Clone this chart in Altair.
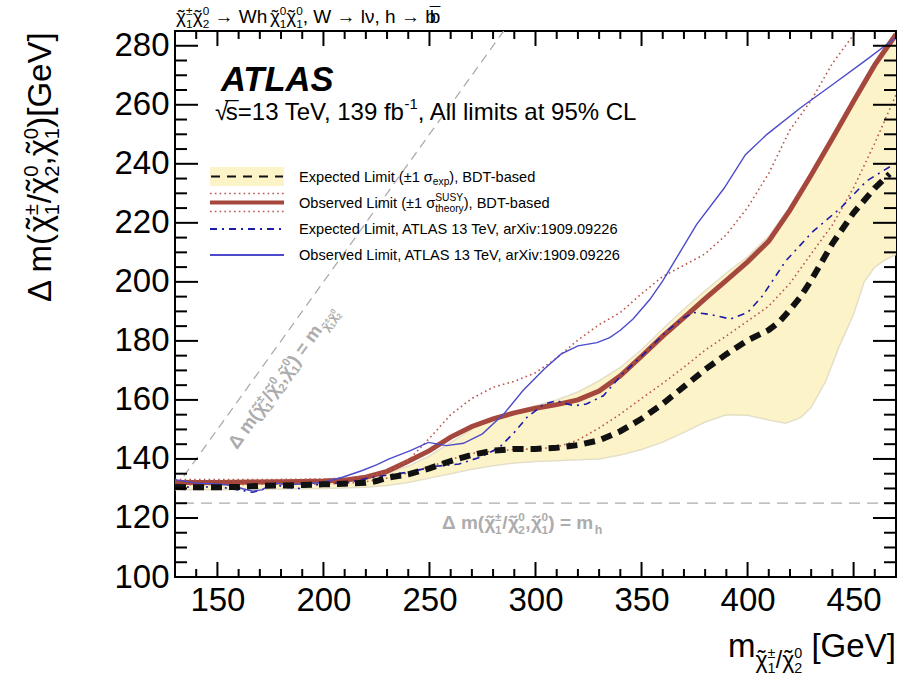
import altair as alt
import pandas as pd
import numpy as np

# ---------------- data ----------------
exp_x = [130, 140, 150, 160, 170, 180, 190, 200, 210, 220, 225, 230, 240, 250, 260, 270, 280, 290, 300, 310,
         320, 330, 340, 350, 360, 370, 380, 390, 400, 410, 415, 420, 425, 430, 440, 450, 460, 467]
exp_y = [130.5, 130.4, 130.4, 130.5, 130.9, 131.0, 131.2, 131.4, 131.6, 131.9, 132.5, 133.6, 134.8, 136.8, 139.3,
         141.4, 142.8, 143.4, 143.4, 143.8, 144.7, 146.3, 149.4, 153.6, 158.7, 164.5, 170.3, 175.5, 180.2, 183.7,
         186.5, 190.5, 195.0, 200.5, 213.0, 223.4, 231.8, 236.6]

obs_x = [130, 140, 150, 160, 170, 180, 190, 200, 210, 220, 230, 240, 250, 260, 270, 280, 290, 300, 310, 320,
         330, 340, 350, 360, 370, 380, 390, 400, 410, 420, 430, 440, 450, 460, 470]
obs_y = [132.0, 132.0, 132.0, 132.1, 132.2, 132.3, 132.4, 132.5, 132.8, 133.8, 135.8, 139.2, 142.8, 147.4, 151.0,
         153.6, 155.6, 157.2, 158.4, 160.0, 163.0, 168.2, 174.8, 181.6, 187.9, 194.3, 200.5, 206.8, 213.8, 224.3,
         236.2, 248.6, 261.2, 273.5, 283.8]

obs_up_x = [130, 150, 170, 200, 210, 220, 230, 240, 250, 260, 270, 280, 290, 300, 310, 320, 330, 340, 350, 360,
            370, 380, 390, 400, 410, 420, 430, 440, 450, 455]
obs_up_y = [133.0, 133.0, 133.0, 133.2, 133.5, 134.2, 135.5, 139.5, 147.0, 155.0, 160.5, 164.3, 166.3, 169.2,
            174.2, 180.3, 185.5, 189.6, 196.0, 201.8, 205.6, 209.5, 216.0, 225.2, 236.8, 251.5, 261.5, 274.0, 283.7,
            289.0]

obs_dn_x = [130, 150, 170, 200, 210, 220, 230, 240, 250, 260, 270, 280, 290, 300, 310, 320, 330, 340, 350, 360,
            370, 380, 390, 400, 410, 420, 430, 440, 450, 460, 470]
obs_dn_y = [131.3, 131.3, 131.4, 131.5, 131.7, 132.3, 133.5, 135.3, 137.3, 139.8, 141.9, 142.6, 143.2, 143.4,
            144.0, 146.4, 150.5, 155.2, 160.5, 165.6, 171.1, 176.9, 181.7, 186.7, 191.8, 199.5, 209.5, 219.3, 231.9,
            247.0, 263.4]

band_x = [130, 150, 170, 200, 220, 230, 240, 250, 260, 270, 280, 290, 300, 310, 320, 330, 340, 350, 360, 370,
          380, 390, 400, 410, 418, 425, 430, 437, 443, 450, 455, 460, 465, 470]
band_hi = [132.6, 132.6, 132.7, 133.0, 134.0, 135.3, 137.5, 141.0, 145.5, 150.0, 153.5, 156.0, 158.0, 160.0, 162.7,
           166.5, 171.0, 177.0, 184.0, 190.8, 197.0, 203.0, 208.5, 215.5, 223.5, 231.0, 237.3, 246.0, 253.5, 262.0,
           268.5, 274.5, 280.0, 285.0]
band_lo = [129.6, 129.6, 129.7, 130.0, 130.4, 131.0, 132.0, 133.5, 135.0, 136.5, 137.7, 138.6, 139.1, 139.4, 139.7,
           140.0, 141.3, 143.2, 145.7, 149.0, 152.5, 155.0, 154.8, 153.2, 152.1, 154.0, 157.5, 166.5, 177.8, 189.0,
           200.0, 205.0, 207.5, 209.3]

old_obs_x = [130, 140, 150, 157, 162, 166.5, 171, 176, 184, 193, 200, 209, 218, 225, 231, 241, 249.5, 258, 266,
             275, 285, 294, 304, 312, 320, 329, 335, 340, 346, 354, 360, 376, 389, 399, 409, 425, 440, 456, 470]
old_obs_y = [133.0, 131.8, 131.5, 131.0, 129.9, 129.1, 129.5, 131.8, 131.3, 131.6, 132.1, 133.8, 136.0, 138.0,
             140.0, 142.8, 145.6, 144.5, 145.3, 148.5, 155.2, 163.1, 170.4, 175.5, 178.3, 179.4, 181.1, 183.6,
             187.4, 194.1, 200.3, 219.5, 231.8, 243.1, 249.9, 259.0, 266.8, 275.2, 282.8]

old_exp_x = [130, 137, 150, 162, 166.5, 171, 176, 182, 190, 193, 200, 212, 223, 240, 253, 264, 274, 283, 290, 296,
             304, 310, 318, 324, 332, 341, 351, 362, 370, 375, 382, 392, 400, 407, 418, 431, 444, 456, 470]
old_exp_y = [131.0, 130.4, 130.6, 129.3, 128.7, 129.5, 131.6, 130.4, 129.9, 131.0, 131.4, 132.1, 133.8, 135.5,
             137.5, 138.3, 140.6, 143.9, 149.0, 154.1, 158.6, 159.7, 158.0, 158.6, 161.4, 168.8, 175.5, 183.4,
             187.9, 189.6, 189.0, 187.4, 189.6, 195.2, 207.1, 217.2, 225.1, 234.1, 240.3]

kin_x = [130, 285]          # Delta m = m(chargino) kinematic line
mh_value = [125]            # Delta m = m_h line

x_major = [150, 200, 250, 300, 350, 400, 450]
x_minor = [v for v in range(140, 471, 10) if v not in x_major]
y_major = [100, 120, 140, 160, 180, 200, 220, 240, 260, 280]
y_minor = [v for v in range(105, 286, 5) if v not in y_major]

legend_labels = [
    "Expected Limit (\u00b11 \u03c3", "exp", "), BDT-based",
    "Observed Limit (\u00b11 \u03c3", "SUSY", "theory", "), BDT-based",
    "Expected Limit, ATLAS 13 TeV, arXiv:1909.09226",
    "Observed Limit, ATLAS 13 TeV, arXiv:1909.09226",
]

# ---------------- layout ----------------
L, T, W, H = 175, 31, 721, 546
X0, X1, Y0, Y1 = 130, 470, 100, 285
FONT = "Liberation Sans"

C_BAND = "#fdf3c8"
C_BAND_EDGE = "#e4dfc8"
C_OBS = "#a5473d"
C_OBS_DOT = "#b8574c"
C_OLD_OBS = "#4b4bcc"
C_OLD_EXP = "#1c1ca8"
C_GRAY = "#acacac"

xs = alt.Scale(domain=[X0, X1], nice=False, zero=False)
ys = alt.Scale(domain=[Y0, Y1], nice=False, zero=False)
xax = alt.Axis(values=x_major, ticks=False, domain=False, grid=False, labelFont=FONT, labelFontSize=33,
               labelColor="black", labelPadding=7, labelFlush=False, labelOverlap=False)
yax = alt.Axis(values=y_major, ticks=False, domain=False, grid=False, labelFont=FONT, labelFontSize=33,
               labelColor="black", labelPadding=6, labelFlush=False, labelOverlap=False)


def X(f):
    return alt.X(f, type="quantitative", scale=xs, axis=xax, title=None)


def Y(f):
    return alt.Y(f, type="quantitative", scale=ys, axis=yax, title=None)


def dx(px):
    return X0 + (px - L) * (X1 - X0) / W


def dy(py):
    return Y1 - (py - T) * (Y1 - Y0) / H


WID = {" ": .278, "(": .333, ")": .333, ",": .278, "-": .333, ".": .278, "/": .278, ":": .278, "=": .584,
       "%": .889, "[": .278, "]": .278, "A": .667, "B": .667, "C": .722, "D": .722, "E": .667, "G": .778,
       "L": .556, "O": .778, "S": .667, "T": .611, "U": .722, "V": .667, "W": .944, "X": .667, "Y": .667,
       "a": .556, "b": .556, "c": .5, "d": .556, "e": .556, "f": .278, "h": .556, "i": .222, "l": .222,
       "m": .833, "n": .556, "o": .556, "p": .556, "r": .333, "s": .5, "t": .278, "v": .5, "x": .5, "y": .5,
       "\u00b1": .584, "\u03c3": .58, "\u03c7": .52, "\u03bd": .5, "\u0394": .668, "\u2192": .84,
       "\u221a": .45, "\u02dc": .333, "\u00af": .552}


def tw(s, size, bold=False):
    w = sum(WID.get(c, 0.556) for c in s) * size
    return w * (1.06 if bold else 1.0)


def rich(items, x0, y0, size, angle=0.0, bold=False):
    """Lay out text pieces (normal / overlay / stacked super+subscript / kern) along a direction."""
    th = np.radians(angle)
    d = (np.cos(th), np.sin(th))
    u = (np.sin(th), -np.cos(th))
    rows = []
    pos = 0.0

    def put(txt, sc, up, shift=0.0):
        s = size * sc
        lead = len(txt) - len(txt.lstrip(" "))
        p = pos + shift + tw(" " * lead, s, bold)
        px = x0 + d[0] * p + u[0] * up * size
        py = y0 + d[1] * p + u[1] * up * size
        rows.append(dict(x=dx(px), y=dy(py), t=txt.strip(" "), s=s, a=angle % 360))
        return tw(txt, s, bold)

    for it in items:
        if it[0] == "t":
            pos += put(it[1], it[2], it[3])
        elif it[0] == "o":
            put(it[1], it[2], it[3], it[4] * size * it[2])
        elif it[0] == "k":
            pos += it[1] * size
        else:
            _, sup, sub, sc, up_sup, up_sub = it
            w1 = put(sup, sc, up_sup)
            w2 = put(sub, sc, up_sub)
            pos += max(w1, w2)
    return rows


def chi(sup, sub, sc=1.0, base=0.0):
    return [("o", "\u02dc", sc, base + 0.02 * sc, 0.10), ("t", "\u03c7", sc, base),
            ("ss", sup, sub, sc * 0.62, base + 0.40 * sc, base - 0.24 * sc)]


def dm_items():
    return ([("t", "\u0394 m(", 1, 0)] + chi("\u00b1", "1") + [("t", "/", 1, 0)] + chi("0", "2")
            + [("t", ",", 1, 0)] + chi("0", "1"))


normal_rows = []
# y-axis title (rotated)
normal_rows += rich(dm_items() + [("t", ")[GeV]", 1, 0)], 51, 302, 33, angle=270)
# x-axis title
normal_rows += rich([("t", "m", 1, 0)] + chi("\u00b1", "1", 0.7, -0.32) + [("t", "/", 0.7, -0.32)]
                    + chi("0", "2", 0.7, -0.32) + [("t", " [GeV]", 1, 0)], 728, 657, 33)
# top title
normal_rows += rich(chi("\u00b1", "1") + chi("0", "2") + [("t", " \u2192 Wh", 1, 0), ("k", 0.3)]
                    + chi("0", "1") + chi("0", "1")
                    + [("t", ", W \u2192 l\u03bd, h \u2192 b", 1, 0), ("o", "\u00af", 1, 0.14, 0.0),
                       ("t", "b", 1, 0)], 176, 23, 19)
# sqrt(s) line
normal_rows += rich([("t", "\u221a", 1, 0), ("o", "\u00af", 1, 0.06, -0.02),
                     ("t", "s=13 TeV, 139 fb", 1, 0), ("k", -0.2), ("t", "-1", 0.62, 0.42),
                     ("t", ", All limits at 95% CL", 1, 0)], 215, 119.5, 24)
# legend text
LS = 14.6
normal_rows += rich([("t", legend_labels[0], 1, 0), ("t", legend_labels[1], 0.7, -0.25),
                     ("t", legend_labels[2], 1, 0)], 299, 181.5, LS)
normal_rows += rich([("t", legend_labels[3], 1, 0), ("ss", legend_labels[4], legend_labels[5], 0.7, 0.45, -0.3),
                     ("t", legend_labels[6], 1, 0)], 299, 207.5, LS)
normal_rows += rich([("t", legend_labels[7], 1, 0)], 299, 234, LS)
normal_rows += rich([("t", legend_labels[8], 1, 0)], 299, 260, LS)

gray_rows = []
gray_rows += rich(dm_items() + [("t", ") = m", 1, 0), ("t", "h", 0.65, -0.25)], 442, 529, 19, bold=True)
gray_rows += rich(dm_items() + [("t", ") = m", 1, 0)] + chi("\u00b1", "1", 0.65, -0.25)
                  + chi("0", "2", 0.65, -0.25), 237, 450, 18.5, angle=305.7, bold=True)

atlas_rows = [dict(x=dx(221), y=dy(90.7), t="ATLAS", s=34.5, a=0)]


def text_layer(rows, **kw):
    return alt.Chart(pd.DataFrame(rows)).mark_text(align="left", baseline="alphabetic", font=FONT, **kw).encode(
        x=X("x"), y=Y("y"), text="t:N",
        size=alt.Size("s:Q", scale=None, legend=None),
        angle=alt.Angle("a:Q", scale=None))


# ---------------- data layers ----------------
band = alt.Chart(pd.DataFrame({"x": band_x, "lo": band_lo, "hi": band_hi}))
band_area = band.mark_area(color=C_BAND, clip=True).encode(x=X("x"), y=Y("lo"), y2="hi")
band_lo_line = band.mark_line(color=C_BAND_EDGE, strokeWidth=1.5, clip=True).encode(x=X("x"), y=Y("lo"))
band_hi_line = band.mark_line(color=C_BAND_EDGE, strokeWidth=1.5, clip=True).encode(x=X("x"), y=Y("hi"))

kin = alt.Chart(pd.DataFrame({"x": kin_x, "y": kin_x})).mark_line(
    color=C_GRAY, strokeWidth=1.3, strokeDash=[9, 6], clip=True).encode(x=X("x"), y=Y("y"))
mh = alt.Chart(pd.DataFrame({"y": mh_value})).mark_rule(
    color=C_GRAY, strokeWidth=1.3, strokeDash=[11, 7]).encode(y=Y("y"))


def series(xv, yv, **kw):
    return alt.Chart(pd.DataFrame({"x": xv, "y": yv})).mark_line(clip=True, **kw).encode(x=X("x"), y=Y("y"))


obs_line = series(obs_x, obs_y, color=C_OBS, strokeWidth=5)
obs_up = series(obs_up_x, obs_up_y, color=C_OBS_DOT, strokeWidth=1.6, strokeDash=[1.6, 3.2])
obs_dn = series(obs_dn_x, obs_dn_y, color=C_OBS_DOT, strokeWidth=1.6, strokeDash=[1.6, 3.2])
exp_line = series(exp_x, exp_y, color="#111111", strokeWidth=6, strokeDash=[11, 7])
old_exp = series(old_exp_x, old_exp_y, color=C_OLD_EXP, strokeWidth=1.6, strokeDash=[7, 5, 2, 5])
old_obs = series(old_obs_x, old_obs_y, color=C_OLD_OBS, strokeWidth=1.4)

# ---------------- ticks (inside the frame, on all four sides) ----------------


def xticks(vals, length):
    c = alt.Chart(pd.DataFrame({"v": vals})).mark_rule(color="black", strokeWidth=2)
    return (c.encode(x=X("v"), y=alt.value(H), y2=alt.value(H - length))
            + c.encode(x=X("v"), y=alt.value(0), y2=alt.value(length)))


def yticks(vals, length):
    c = alt.Chart(pd.DataFrame({"v": vals})).mark_rule(color="black", strokeWidth=2)
    return (c.encode(y=Y("v"), x=alt.value(0), x2=alt.value(length))
            + c.encode(y=Y("v"), x=alt.value(W - length), x2=alt.value(W)))


ticks = xticks(x_major, 15) + xticks(x_minor, 8) + yticks(y_major, 23) + yticks(y_minor, 12)

# ---------------- legend samples ----------------


def lrule(x1, x2, y, **kw):
    return alt.Chart(pd.DataFrame({"k": [0]})).mark_rule(**kw).encode(
        x=alt.value(x1 - L), x2=alt.value(x2 - L), y=alt.value(y - T))


leg_box = alt.Chart(pd.DataFrame({"k": [0]})).mark_rect(color=C_BAND).encode(
    x=alt.value(210 - L), x2=alt.value(284 - L), y=alt.value(167 - T), y2=alt.value(186 - T))
legend = (leg_box
          + lrule(211, 283, 176.5, color="#111111", strokeWidth=2, strokeDash=[9, 7])
          + lrule(210, 284, 193.5, color=C_OBS_DOT, strokeWidth=1.5, strokeDash=[1.6, 3.2])
          + lrule(210, 284, 202.5, color=C_OBS, strokeWidth=4)
          + lrule(210, 284, 211.5, color=C_OBS_DOT, strokeWidth=1.5, strokeDash=[1.6, 3.2])
          + lrule(210, 284, 229, color=C_OLD_EXP, strokeWidth=2, strokeDash=[7, 5, 2, 5])
          + lrule(210, 284, 255, color=C_OLD_OBS, strokeWidth=2))

texts = (text_layer(normal_rows, color="black")
         + text_layer(gray_rows, color=C_GRAY, fontWeight="bold")
         + text_layer(atlas_rows, color="black", fontWeight="bold", fontStyle="italic"))

chart = alt.layer(
    band_area, band_lo_line, band_hi_line, kin, mh,
    obs_line, obs_up, obs_dn, old_exp, old_obs, exp_line,
    ticks, legend, texts,
).properties(
    width=W, height=H,
    autosize=alt.AutoSizeParams(type="none"),
    padding={"left": L, "top": T, "right": 898 - L - W, "bottom": 688 - T - H},
    background="white",
).configure_view(stroke="black", strokeWidth=2)

chart.save("out.html", embed_options={"renderer": "svg", "actions": False})
